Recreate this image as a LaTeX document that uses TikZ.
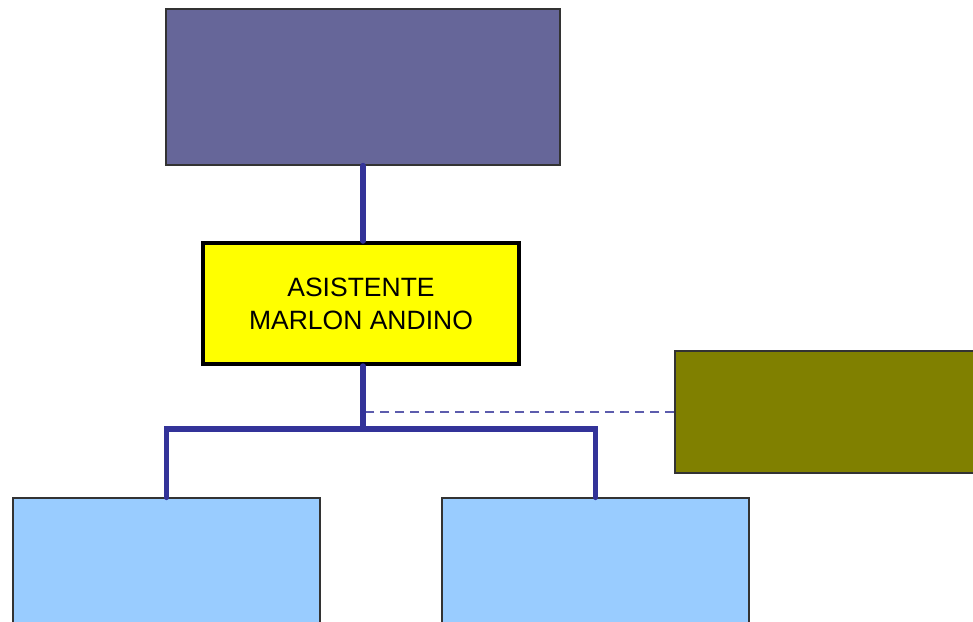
\documentclass[tikz,border=0pt]{standalone}
\usepackage{fontspec}
\setmainfont{Liberation Sans}
\usetikzlibrary{calc,shadows}

\definecolor{topviolet}{HTML}{666699}
\definecolor{oliveboss}{HTML}{808000}
\definecolor{skyblue}{HTML}{99CCFF}
\definecolor{linkblue}{HTML}{333399}
\definecolor{brightyellow}{RGB}{255,255,0}

\begin{document}
\begin{tikzpicture}[x=1pt,y=-1pt]

\tikzset{box/.style = {shape=rectangle,draw=black!80,line width=1.2pt,inner sep=0pt}}
\tikzset{link/.style = {line width=5.5pt,draw=linkblue,line cap=round}}
\tikzset{dashlink/.style = {line width=1.3pt,draw=linkblue!80,dash pattern=on 9pt off 6pt}}

\useasboundingbox (0,0) rectangle (973,621);

\foreach \pos/\name/\bw/\bh/\col in {{(363,87)/director/394/156/topviolet},
  {(830,412)/advisor/310/122/oliveboss},
  {(166.5,568)/unitA/307/140/skyblue}, {(595.5,568)/unitB/307/140/skyblue}}
\node[box,minimum width=\bw,minimum height=\bh,fill=\col] (\name) at \pos {};

\node[box,draw=black,line width=4pt,fill=brightyellow,minimum width=316,minimum height=121,
  align=center,font=\fontsize{26.5}{33}\selectfont,
  drop shadow={shadow xshift=2pt,shadow yshift=-2pt,fill=gray!70,opacity=1}]
  (assistant) at (361,303.5) {ASISTENTE\\MARLON ANDINO};

% staff line behind the hierarchy
\draw[dashlink] (advisor.west) -- (advisor.west -| director.south);

\draw[link] (director.south) -- (assistant.north -| director.south);
\draw[link] (assistant.south -| director.south) -- ++(0,63) coordinate (bus);
\draw[link] (unitA.north) |- (bus) -| (unitB.north);

\end{tikzpicture}
\end{document}
